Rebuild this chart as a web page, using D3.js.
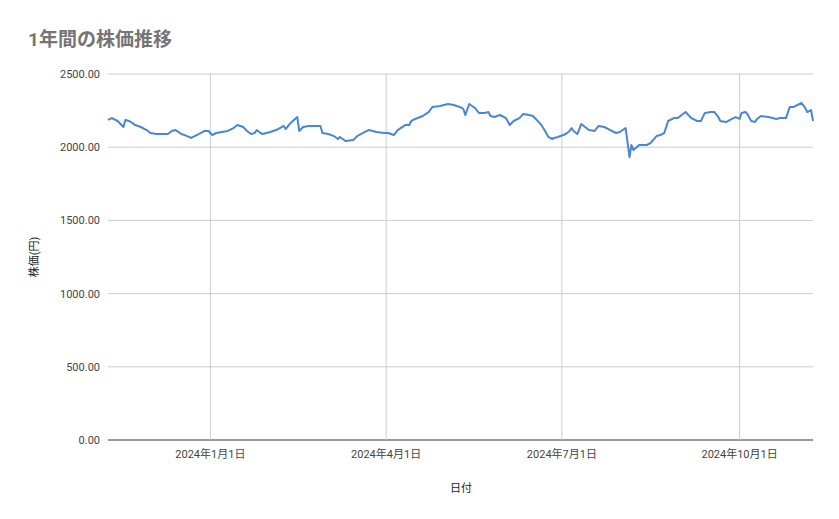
<!DOCTYPE html>
<html><head><meta charset="utf-8">
<script src="https://cdn.jsdelivr.net/npm/d3@7"></script>
<style>body{margin:0;background:#fff;font-family:Roboto,"Noto Sans CJK JP",sans-serif}</style>
</head><body><svg id="c" width="839" height="519"></svg>
<script>
const dates=["2023-11-09","2023-11-11","2023-11-14","2023-11-17","2023-11-18","2023-11-20","2023-11-23","2023-11-26","2023-11-29","2023-12-01","2023-12-04","2023-12-08","2023-12-10","2023-12-12","2023-12-14","2023-12-17","2023-12-20","2023-12-22","2023-12-26","2023-12-29","2023-12-31","2024-01-02","2024-01-04","2024-01-10","2024-01-13","2024-01-15","2024-01-18","2024-01-20","2024-01-22","2024-01-24","2024-01-25","2024-01-27","2024-01-28","2024-02-01","2024-02-04","2024-02-06","2024-02-08","2024-02-09","2024-02-11","2024-02-15","2024-02-16","2024-02-18","2024-02-21","2024-02-27","2024-02-28","2024-03-02","2024-03-05","2024-03-07","2024-03-08","2024-03-11","2024-03-15","2024-03-17","2024-03-21","2024-03-23","2024-03-27","2024-03-31","2024-04-02","2024-04-05","2024-04-07","2024-04-11","2024-04-13","2024-04-14","2024-04-16","2024-04-20","2024-04-23","2024-04-25","2024-04-29","2024-05-03","2024-05-06","2024-05-09","2024-05-11","2024-05-12","2024-05-14","2024-05-17","2024-05-19","2024-05-22","2024-05-24","2024-05-25","2024-05-27","2024-05-30","2024-06-02","2024-06-04","2024-06-06","2024-06-09","2024-06-11","2024-06-14","2024-06-16","2024-06-18","2024-06-20","2024-06-22","2024-06-24","2024-06-26","2024-06-27","2024-06-29","2024-07-03","2024-07-05","2024-07-06","2024-07-07","2024-07-09","2024-07-11","2024-07-15","2024-07-18","2024-07-20","2024-07-23","2024-07-26","2024-07-29","2024-07-31","2024-08-03","2024-08-05","2024-08-06","2024-08-07","2024-08-10","2024-08-14","2024-08-16","2024-08-19","2024-08-21","2024-08-23","2024-08-25","2024-08-28","2024-08-30","2024-09-01","2024-09-03","2024-09-06","2024-09-09","2024-09-11","2024-09-13","2024-09-16","2024-09-18","2024-09-20","2024-09-21","2024-09-24","2024-09-27","2024-09-29","2024-10-01","2024-10-02","2024-10-04","2024-10-05","2024-10-07","2024-10-09","2024-10-10","2024-10-12","2024-10-16","2024-10-20","2024-10-22","2024-10-25","2024-10-27","2024-10-29","2024-11-01","2024-11-02","2024-11-04","2024-11-05","2024-11-07","2024-11-08"];
const prices=[2186,2199,2179,2138,2186,2179,2152,2138,2117,2097,2090,2090,2090,2111,2117,2090,2076,2063,2090,2111,2111,2083,2097,2111,2131,2152,2138,2111,2090,2097,2117,2097,2090,2104,2117,2131,2145,2124,2158,2206,2111,2138,2145,2145,2097,2090,2076,2056,2070,2042,2049,2076,2104,2117,2104,2097,2097,2083,2117,2152,2152,2179,2193,2213,2240,2275,2281,2295,2288,2275,2261,2220,2295,2268,2234,2234,2240,2213,2206,2220,2199,2152,2179,2199,2227,2220,2213,2186,2158,2117,2070,2056,2063,2070,2090,2111,2131,2111,2090,2158,2117,2111,2145,2138,2117,2097,2104,2131,1933,2015,1981,2015,2015,2029,2076,2083,2097,2179,2199,2199,2220,2240,2199,2179,2179,2234,2240,2240,2206,2179,2172,2193,2206,2193,2234,2240,2227,2179,2172,2193,2213,2206,2193,2199,2199,2275,2275,2295,2302,2268,2240,2254,2179];
const yTicks=[0,500,1000,1500,2000,2500];
const xTickDates=["2024-01-01","2024-04-01","2024-07-01","2024-10-01"];
const xTickLabels=["2024年1月1日","2024年4月1日","2024年7月1日","2024年10月1日"];
const title="1年間の株価推移", yTitle="株価(円)", xTitle="日付";

const P=d3.timeParse("%Y-%m-%d");
const n=Math.min(dates.length,prices.length);
const data=dates.slice(0,n).map((d,i)=>({d:P(d),v:prices[i]}));
const svg=d3.select("#c");
const L=108,R=813,T=74,B=440;
const x=d3.scaleTime().domain([P("2023-11-09"),P("2024-11-08")]).range([L,R]);
const y=d3.scaleLinear().domain([0,2500]).range([B,T]);
svg.append("g").selectAll("line").data(yTicks).join("line")
 .attr("x1",L).attr("x2",R).attr("y1",d=>y(d)).attr("y2",d=>y(d))
 .attr("stroke",d=>d===0?"#333":"#ccc").attr("stroke-width",1);
svg.append("g").selectAll("line").data(xTickDates).join("line")
 .attr("x1",d=>x(P(d))).attr("x2",d=>x(P(d))).attr("y1",T).attr("y2",B)
 .attr("stroke","#ccc");
svg.append("g").selectAll("text").data(yTicks).join("text")
 .attr("x",L-8).attr("y",d=>y(d)+4).attr("text-anchor","end")
 .attr("font-size",11).attr("fill","#444").text(d=>d3.format(".2f")(d));
svg.append("g").selectAll("text").data(xTickDates).join("text")
 .attr("x",d=>x(P(d))).attr("y",458).attr("text-anchor","middle")
 .attr("font-size",11).attr("fill","#444").text((d,i)=>xTickLabels[i]);
svg.append("path").datum(data).attr("fill","none").attr("stroke","#4a86d8").attr("stroke-width",2)
 .attr("stroke-linejoin","round").attr("d",d3.line().x(d=>x(d.d)).y(d=>y(d.v)));
svg.append("text").attr("x",28).attr("y",46).attr("font-size",19).attr("font-weight","bold").attr("fill","#757575").text(title);
svg.append("text").attr("transform","translate(38,257) rotate(-90)").attr("text-anchor","middle").attr("font-size",11).attr("fill","#222").text(yTitle);
svg.append("text").attr("x",461).attr("y",492).attr("text-anchor","middle").attr("font-size",11).attr("fill","#222").text(xTitle);
</script></body></html>
